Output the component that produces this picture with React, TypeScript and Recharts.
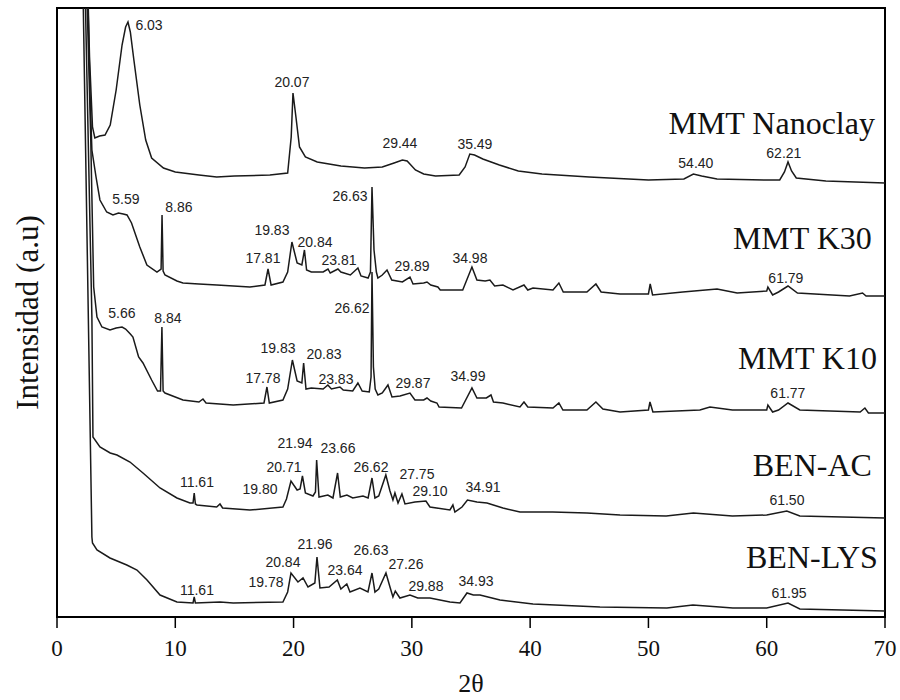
import { ComposedChart, Line, XAxis, YAxis, ReferenceDot, ReferenceArea } from "recharts"

// 2θ (deg), intensity (a.u., stacked offsets included)
const nanoclay = [
  [2.45, 700], [2.75, 560], [3.0, 490], [3.2, 479], [3.6, 481], [4.06, 482], [4.5, 492], [5.0, 527],
  [5.5, 572], [5.8, 590], [6.0, 595], [6.2, 585], [6.5, 557], [7.0, 512], [7.5, 477], [8.0, 459],
  [9.0, 449], [10.0, 445], [12, 442], [13.5, 440], [15, 441], [18, 442], [19.5, 444], [19.8, 480],
  [19.95, 524], [20.2, 500], [20.5, 470], [21, 460], [22, 455], [24, 451], [26, 449], [27.5, 450],
  [28.5, 454], [29.2, 457], [29.6, 456], [30.3, 447], [31, 443], [32, 441], [34, 442], [34.5, 450],
  [34.9, 463], [35.3, 462], [36, 458], [37.4, 452], [39, 446], [41, 443], [45, 440], [50, 437],
  [53, 438], [53.8, 443], [54.5, 441], [55.8, 438], [60, 437], [61.1, 437], [61.5, 445], [61.8, 455],
  [62.1, 446], [62.5, 439], [65, 436], [70, 434],
]

const k30 = [
  [2.45, 700], [2.8, 520], [2.95, 467], [3.3, 440], [3.63, 417], [4.2, 405], [4.73, 402], [5.2, 404],
  [5.6, 403], [5.92, 402], [6.3, 394], [7.0, 370], [7.6, 352], [8.45, 345], [8.8, 348], [8.88, 402],
  [8.97, 346], [9.13, 342], [10.14, 336], [10.65, 334], [12, 333], [13.52, 332], [16.31, 330],
  [17.58, 332], [17.84, 348], [18.1, 332], [19.1, 335], [19.5, 345], [19.86, 375], [20.3, 354],
  [20.7, 352], [20.92, 367], [21.1, 347], [21.5, 345], [22.5, 345], [22.91, 348], [23.1, 344],
  [23.75, 348], [24.0, 345], [24.8, 342], [25.44, 349], [25.7, 341], [26.3, 339], [26.5, 345],
  [26.63, 430], [26.8, 367], [27.0, 345], [27.13, 339], [27.5, 342], [27.9, 347], [28.3, 337],
  [29.2, 335], [29.84, 340], [30.1, 333], [31.0, 334], [31.28, 335], [31.6, 332], [32.2, 330],
  [32.4, 327], [34.3, 327], [35.08, 350], [35.5, 337], [36.2, 336], [36.6, 337], [37.0, 331],
  [37.7, 332], [38.55, 327], [39.48, 332], [39.8, 327], [40.24, 329], [41.93, 327], [42.43, 334],
  [42.8, 325], [44.8, 325], [45.56, 333], [46.0, 325], [47.6, 323], [50.0, 323], [50.15, 333],
  [50.35, 322], [52.9, 325], [55.8, 328], [57.5, 324], [60.0, 326], [60.1, 330], [60.5, 322],
  [61.0, 325], [61.8, 331], [62.6, 324], [67.0, 321], [68.1, 324], [68.4, 321], [70, 321],
]

const k10 = [
  [2.35, 700], [2.85, 480], [3.1, 330], [3.38, 300], [3.8, 290], [4.48, 287], [5.0, 289], [5.5, 290],
  [5.8, 288], [6.2, 283], [6.42, 280], [6.9, 260], [7.27, 254], [8.0, 237], [8.5, 226], [8.75, 226],
  [8.87, 290], [8.97, 226], [9.13, 224], [10.65, 217], [12.0, 215], [12.34, 218], [12.6, 214],
  [14.9, 212], [17.5, 214], [17.75, 230], [17.95, 214], [19.1, 217], [19.5, 228], [19.9, 257],
  [20.3, 236], [20.7, 234], [20.85, 254], [21.05, 228], [21.5, 229], [22.5, 228], [22.9, 232],
  [23.2, 228], [23.92, 230], [24.2, 227], [25.0, 226], [25.44, 234], [25.8, 226], [26.4, 225],
  [26.55, 240], [26.63, 345], [26.75, 250], [26.9, 228], [27.13, 222], [27.5, 224], [27.98, 232],
  [28.32, 220], [29.0, 221], [29.84, 224], [30.26, 217], [31.0, 217], [31.28, 219], [31.6, 216],
  [32.12, 214], [32.3, 210], [34.2, 209], [35.08, 229], [35.5, 219], [36.3, 219], [36.69, 222],
  [36.9, 215], [37.7, 214], [39.14, 210], [39.48, 215], [39.8, 210], [41.93, 209], [42.43, 214],
  [42.77, 207], [44.8, 207], [45.56, 215], [46.15, 208], [47.6, 205], [50.0, 207], [50.13, 215],
  [50.38, 205], [54.35, 207], [55.2, 210], [57.1, 207], [60.0, 207], [60.1, 212], [60.5, 205],
  [61.0, 207], [61.8, 214], [62.8, 207], [67.9, 205], [68.3, 209], [68.6, 204], [70, 204],
]

const benAc = [
  [2.25, 700], [2.95, 300], [3.04, 180], [3.63, 170], [4.5, 164], [5.07, 162], [6.17, 155], [7.27, 144],
  [8.71, 129], [10.14, 119], [11.24, 114], [11.5, 114], [11.6, 124], [11.7, 113], [11.83, 112],
  [13.5, 110], [13.78, 113], [14.0, 109], [16.31, 107], [19.1, 110], [19.4, 118], [19.78, 136],
  [20.3, 127], [20.55, 128], [20.75, 141], [21.0, 124], [21.64, 121], [21.85, 125], [21.95, 157],
  [22.15, 120], [22.9, 122], [23.33, 119], [23.72, 144], [23.95, 120], [24.51, 122], [25.0, 119],
  [25.87, 121], [26.3, 119], [26.63, 139], [26.88, 119], [27.2, 121], [27.8, 142], [28.15, 126],
  [28.4, 117], [28.57, 124], [28.83, 114], [29.16, 123], [29.42, 113], [30.26, 115], [31.19, 116],
  [31.53, 110], [33.22, 107], [33.47, 112], [33.64, 105], [34.24, 110], [34.7, 117], [35.5, 115],
  [36.35, 114], [37.7, 109], [39.14, 105], [41.9, 105], [44.8, 104], [47.6, 102], [51.5, 101],
  [53.8, 104], [57.1, 101], [60.0, 102], [61.7, 106], [62.8, 101], [70, 99],
]

const benLys = [
  [2.1, 700], [2.95, 80], [3.0, 74], [3.38, 67], [4.48, 59], [5.9, 52], [6.76, 47], [7.61, 37],
  [8.71, 22], [10.14, 15], [11.5, 14], [11.6, 20], [11.7, 14], [13.78, 15], [14.9, 14], [19.1, 15],
  [19.5, 25], [19.78, 44], [20.37, 35], [20.8, 39], [21.22, 30], [21.8, 34], [21.98, 60], [22.23, 29],
  [23.0, 30], [23.7, 37], [24.0, 28], [24.5, 33], [24.77, 25], [25.61, 29], [26.29, 25], [26.63, 44],
  [26.88, 25], [27.2, 28], [27.81, 44], [28.15, 30], [28.4, 20], [28.6, 26], [28.99, 19], [29.84, 22],
  [30.5, 19], [31.53, 19], [33.22, 15], [34.07, 14], [34.66, 24], [35.2, 22], [35.76, 22], [37.45, 17],
  [40.24, 13], [45.9, 10], [51.56, 9], [53.76, 12], [57.14, 9], [60.0, 9], [61.8, 14], [62.8, 8], [70, 6],
]

// peak labels: text, anchor 2θ, anchor intensity
const nanoclayPeaks = [
  ["6.03", 7.78, 592], ["20.07", 19.86, 535], ["29.44", 28.99, 474], ["35.49", 35.33, 473],
  ["54.40", 54.01, 454], ["62.21", 61.45, 464],
]
const k30Peaks = [
  ["5.59", 5.83, 418], ["8.86", 10.31, 410], ["17.81", 17.41, 359], ["19.83", 18.17, 387],
  ["20.84", 21.81, 375], ["23.81", 23.84, 357], ["26.63", 24.77, 421], ["29.89", 30.01, 351],
  ["34.98", 34.91, 359], ["61.79", 61.62, 339],
]
const k10Peaks = [
  ["5.66", 5.49, 304], ["8.84", 9.38, 299], ["19.83", 18.68, 269], ["20.83", 22.57, 263],
  ["17.78", 17.41, 239], ["23.83", 23.58, 238], ["26.62", 24.94, 309], ["29.87", 30.09, 234],
  ["34.99", 34.74, 241], ["61.77", 61.79, 224],
]
const benAcPeaks = [
  ["11.61", 11.83, 135], ["19.80", 17.16, 128], ["20.71", 19.19, 150], ["21.94", 20.12, 174],
  ["23.66", 23.75, 169], ["26.62", 26.54, 150], ["27.75", 30.43, 143], ["29.10", 31.53, 126],
  ["34.91", 36.01, 130], ["61.50", 61.71, 117],
]
const benLysPeaks = [
  ["11.61", 11.83, 27], ["19.78", 17.67, 35], ["20.84", 19.1, 55], ["21.96", 21.81, 73],
  ["23.64", 24.35, 47], ["26.63", 26.54, 67], ["27.26", 29.5, 53], ["29.88", 31.19, 31],
  ["34.93", 35.42, 36], ["61.95", 61.88, 24],
]

const seriesNames = ["MMT Nanoclay", "MMT K30", "MMT K10", "BEN-AC", "BEN-LYS"]
const nameAnchors = [[69.15, 494], [68.89, 379], [69.32, 259], [68.89, 152], [69.4, 60]]

const xTicks = [0, 10, 20, 30, 40, 50, 60, 70]

const toPts = (arr: number[][]) => arr.map(([x, y]) => ({ x, y }))
const traces = [nanoclay, k30, k10, benAc, benLys].map(toPts)
const peakSets = [nanoclayPeaks, k30Peaks, k10Peaks, benAcPeaks, benLysPeaks]

const serif = "'Liberation Serif', 'Times New Roman', serif"
const sans = "'Liberation Sans', Arial, sans-serif"

export default function App() {
  return (
    <div style={{ position: "absolute", left: 0, top: 0, background: "#fff" }}>
      <ComposedChart width={900} height={700} margin={{ top: 8, right: 15, bottom: 0, left: 0 }}>
        <XAxis
          type="number"
          dataKey="x"
          domain={[0, 70]}
          ticks={xTicks}
          allowDataOverflow
          height={83}
          tickSize={11}
          tickMargin={12}
          tick={{ fill: "#111", fontSize: 23, fontFamily: serif }}
          tickLine={{ stroke: "#000", strokeWidth: 1.5 }}
          axisLine={{ stroke: "#000", strokeWidth: 2 }}
          label={{ value: "2θ", position: "insideBottom", offset: 8, fill: "#111", fontSize: 26, fontFamily: serif }}
        />
        <YAxis
          type="number"
          dataKey="y"
          domain={[0, 609]}
          allowDataOverflow
          width={57}
          tick={false}
          tickLine={false}
          axisLine={{ stroke: "#000", strokeWidth: 2 }}
          label={{ value: "Intensidad (a.u)", angle: -90, position: "center", dx: -2, fill: "#111", fontSize: 31, fontFamily: serif }}
        />
        <ReferenceArea x1={0} x2={70} y1={0} y2={609} fill="none" stroke="#000" strokeWidth={2} fillOpacity={0} />
        {traces.map((pts, i) => (
          <Line
            key={seriesNames[i]}
            data={pts}
            dataKey="y"
            type="linear"
            stroke="#1a1a1a"
            strokeWidth={1.5}
            dot={false}
            activeDot={false}
            isAnimationActive={false}
          />
        ))}
        {peakSets.flatMap((set, i) =>
          set.map(([t, x, y]) => (
            <ReferenceDot
              key={`${i}-${t}-${x}`}
              x={x as number}
              y={y as number}
              r={0}
              shape={(p: any) => (
                <text x={p.cx} y={p.cy} textAnchor="middle" dominantBaseline="central" fontSize={14} fontFamily={sans} fill="#222">
                  {t}
                </text>
              )}
            />
          ))
        )}
        {seriesNames.map((name, i) => (
          <ReferenceDot
            key={name}
            x={nameAnchors[i][0]}
            y={nameAnchors[i][1]}
            r={0}
            shape={(p: any) => (
              <text x={p.cx} y={p.cy} textAnchor="end" dominantBaseline="central" fontSize={32} fontFamily={serif} fill="#111">
                {name}
              </text>
            )}
          />
        ))}
      </ComposedChart>
    </div>
  )
}
